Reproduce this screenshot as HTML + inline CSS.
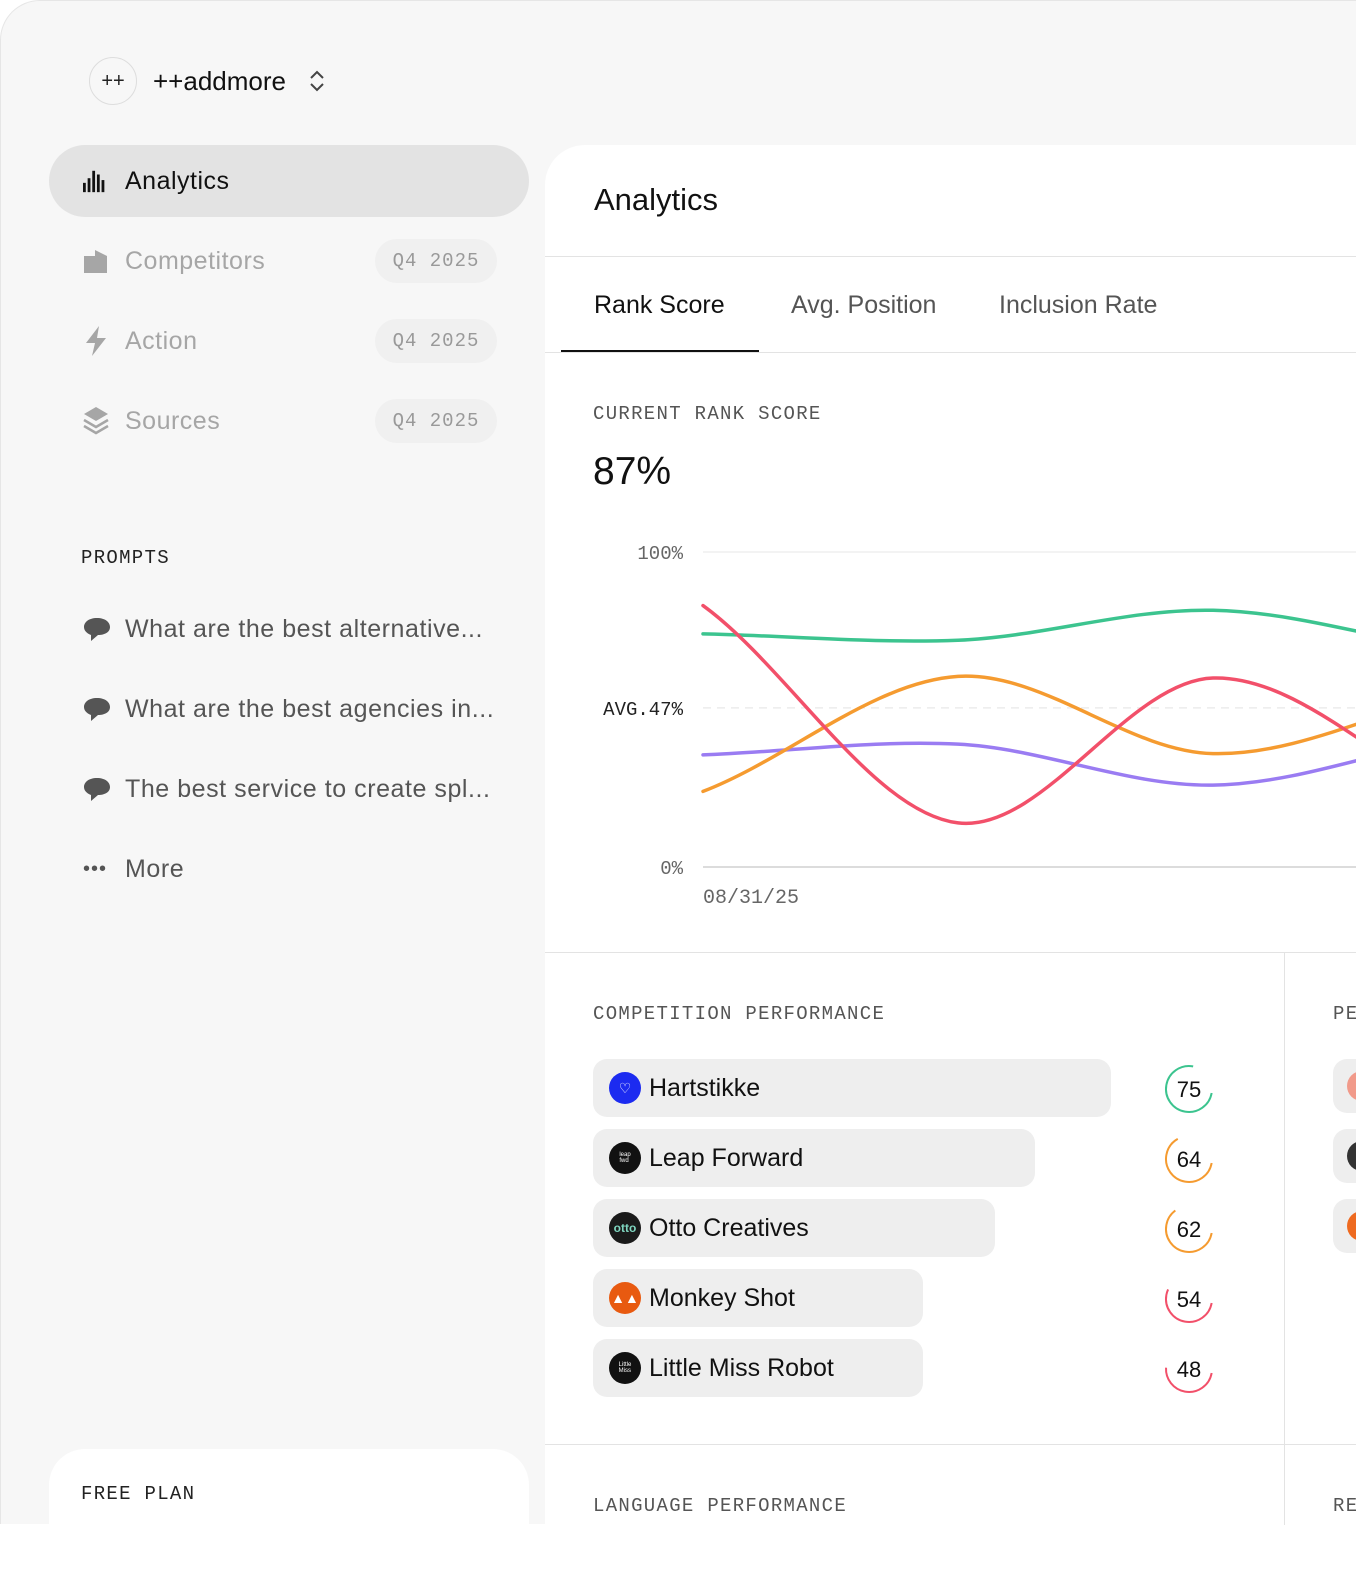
<!DOCTYPE html>
<html><head><meta charset="utf-8">
<style>
*{box-sizing:border-box;margin:0;padding:0}
body{width:1356px;height:1524px;overflow:hidden;background:#fff;font-family:"Liberation Sans",sans-serif;position:relative}
.page{position:absolute;left:0;top:0;width:1356px;height:1524px;background:#f7f7f7;border-top-left-radius:40px;border:1px solid #e6e6e6;border-right:none;border-bottom:none}
.abs{position:absolute}
.mono{font-family:"Liberation Mono",monospace}
.nav-item{position:absolute;left:48px;width:480px;height:72px;border-radius:36px;display:flex;align-items:center;padding-left:34px;font-size:25px;letter-spacing:0.5px;color:#a6a6a6}
.nav-item .ic{width:26px;height:26px;margin-right:16px;display:flex;align-items:center;justify-content:center}
.badge{position:absolute;right:32px;top:14px;height:44px;width:122px;border-radius:22px;background:#f0f0f0;font-family:"Liberation Mono",monospace;font-size:19px;color:#999;display:flex;align-items:center;justify-content:center;letter-spacing:1px}
.prompt{position:absolute;left:82px;font-size:25px;letter-spacing:0.55px;color:#555;display:flex;align-items:center}
.prompt .bub{width:28px;height:26px;margin-right:14px}
.card{position:absolute;left:544px;top:144px;width:830px;height:1400px;background:#fff;border-top-left-radius:40px}
.label{font-family:"Liberation Mono",monospace;font-size:19px;letter-spacing:1.3px;color:#555}
.bar{position:absolute;left:592px;height:58px;border-radius:14px;background:#eeeeee;display:flex;align-items:center;padding-left:16px;font-size:25px;color:#111}
.logo{width:32px;height:32px;border-radius:50%;margin-right:8px;display:flex;align-items:center;justify-content:center;color:#fff;font-size:6px;line-height:6px}
.ring{position:absolute;left:1162px;width:52px;height:52px}
.rbox{position:absolute;left:1332px;width:60px;height:54px;border-radius:14px;background:#eee}
.rbox i{position:absolute;left:14px;top:12px;width:30px;height:30px;border-radius:50%}
</style></head><body>
<div class="page">
  <div class="abs" style="left:88px;top:56px;width:48px;height:48px;border-radius:50%;border:1px solid #ddd;display:flex;align-items:center;justify-content:center;font-size:20px;color:#222">++</div>
  <div class="abs" style="left:152px;top:65px;font-size:26px;color:#111">++addmore</div>
  <svg class="abs" style="left:306px;top:67px" width="20" height="26" viewBox="0 0 20 26"><path d="M4 10 L10 4 L16 10 M4 16 L10 22 L16 16" fill="none" stroke="#444" stroke-width="2"/></svg>

  <div class="nav-item" style="top:144px;background:#e3e3e3;color:#111">
    <span class="ic"><svg width="28" height="26" viewBox="0 0 28 26"><g fill="#111"><rect x="0" y="15" width="3" height="10"/><rect x="5" y="10" width="3" height="15"/><rect x="10" y="2" width="3" height="23"/><rect x="15" y="6" width="3" height="19"/><rect x="20" y="12" width="3" height="13"/></g></svg></span>Analytics</div>
  <div class="nav-item" style="top:224px">
    <span class="ic"><svg width="26" height="26" viewBox="0 0 26 26"><path d="M1 8 L12 8 L12 2 L24 8 L24 25 L1 25Z" fill="#a6a6a6"/></svg></span>Competitors<span class="badge">Q4 2025</span></div>
  <div class="nav-item" style="top:304px">
    <span class="ic"><svg width="26" height="30" viewBox="0 0 26 30"><path d="M16 0 L3 17 L12 17 L9 30 L23 12 L14 12Z" fill="#a6a6a6"/></svg></span>Action<span class="badge">Q4 2025</span></div>
  <div class="nav-item" style="top:384px">
    <span class="ic"><svg width="26" height="30" viewBox="0 0 26 30"><path d="M13 1 L25 8 L13 15 L1 8Z" fill="#a6a6a6"/><path d="M1 14 L13 21 L25 14 M1 20 L13 27 L25 20" fill="none" stroke="#a6a6a6" stroke-width="2.5"/></svg></span>Sources<span class="badge">Q4 2025</span></div>

  <div class="abs label" style="left:80px;top:546px;color:#222">PROMPTS</div>
  <div class="prompt" style="top:614px"><svg class="bub" viewBox="0 0 28 26"><path d="M14 1 C22 1 27 5 27 10 C27 15 22 18 15 18 L8 24 L8 18 C3 16 1 13 1 10 C1 5 6 1 14 1Z" fill="#555"/></svg>What are the best alternative...</div>
  <div class="prompt" style="top:694px"><svg class="bub" viewBox="0 0 28 26"><path d="M14 1 C22 1 27 5 27 10 C27 15 22 18 15 18 L8 24 L8 18 C3 16 1 13 1 10 C1 5 6 1 14 1Z" fill="#555"/></svg>What are the best agencies in...</div>
  <div class="prompt" style="top:774px"><svg class="bub" viewBox="0 0 28 26"><path d="M14 1 C22 1 27 5 27 10 C27 15 22 18 15 18 L8 24 L8 18 C3 16 1 13 1 10 C1 5 6 1 14 1Z" fill="#555"/></svg>The best service to create spl...</div>
  <div class="prompt" style="top:854px"><span style="width:28px;margin-right:14px;font-size:20px;letter-spacing:1px;color:#555">•••</span>More</div>

  <div class="abs" style="left:48px;top:1448px;width:480px;height:120px;background:#fff;border-radius:36px"></div>
  <div class="abs label" style="left:80px;top:1482px;color:#222">FREE PLAN</div>

  <div class="card"></div>
  <div class="abs" style="left:593px;top:181px;font-size:31px;color:#111">Analytics</div>
  <div class="abs" style="left:544px;top:255px;width:812px;height:1px;background:#e3e3e3"></div>
  <div class="abs" style="left:593px;top:290px;font-size:25px;color:#111">Rank Score</div>
  <div class="abs" style="left:790px;top:290px;font-size:25px;color:#555">Avg. Position</div>
  <div class="abs" style="left:998px;top:290px;font-size:25px;color:#555">Inclusion Rate</div>
  <div class="abs" style="left:544px;top:351px;width:812px;height:1px;background:#e3e3e3"></div>
  <div class="abs" style="left:560px;top:349px;width:198px;height:2px;background:#111"></div>

  <div class="abs label" style="left:592px;top:402px">CURRENT RANK SCORE</div>
  <div class="abs" style="left:592px;top:449px;font-size:39px;color:#111">87%</div>

  <svg class="abs" id="chart" style="left:544px;top:520px" width="812" height="400"></svg>

  <div class="abs" style="left:544px;top:951px;width:812px;height:1px;background:#e3e3e3"></div>
  <div class="abs" style="left:1283px;top:951px;width:1px;height:573px;background:#e3e3e3"></div>
  <div class="abs" style="left:544px;top:1443px;width:812px;height:1px;background:#e3e3e3"></div>

  <div class="abs label" style="left:592px;top:1002px">COMPETITION PERFORMANCE</div>
  <div class="abs label" style="left:1332px;top:1002px">PE</div>
  <div class="abs label" style="left:592px;top:1494px">LANGUAGE PERFORMANCE</div>
  <div class="abs label" style="left:1332px;top:1494px">RE</div>

  <div class="bar" style="top:1058px;width:518px"><span class="logo" style="background:#1c2bf0;font-size:14px">♡</span>Hartstikke</div>
  <div class="bar" style="top:1128px;width:442px"><span class="logo" style="background:#111">leap<br>fwd</span>Leap Forward</div>
  <div class="bar" style="top:1198px;width:402px"><span class="logo" style="background:#1a1a1a;color:#7fd6c0;font-size:12px;font-weight:bold">otto</span>Otto Creatives</div>
  <div class="bar" style="top:1268px;width:330px"><span class="logo" style="background:#e85a10;font-size:14px">▲▲</span>Monkey Shot</div>
  <div class="bar" style="top:1338px;width:330px"><span class="logo" style="background:#111">Little<br>Miss</span>Little Miss Robot</div>

  <div id="rings"></div>

  <div class="rbox" style="top:1058px"><i style="background:#f19a8a"></i></div>
  <div class="rbox" style="top:1128px"><i style="background:#333"></i></div>
  <div class="rbox" style="top:1198px"><i style="background:#ee6a20"></i></div>
</div>

<script>
// chart data
const categories = ["08/31/25","09/30/25","10/31/25","11/30/25"];
const greenSeries = [74, 72, 81.5, 68];
const redSeries = [83, 14, 60, 20];
const orangeSeries = [24, 60.5, 36, 56];
const purpleSeries = [35.6, 39, 26, 42];
const yTicks = [0, 100];
const avgValue = 50.5;
const avgLabel = "AVG.47%";
const scores = [75, 64, 62, 54, 48];

const NS = "http://www.w3.org/2000/svg";
const svg = document.getElementById('chart');
const x0 = 158, xStep = 255;
const yTop = 31, yBot = 346;
function xS(i){ return x0 + i * xStep; }
function yS(v){ return yBot - (v / 100) * (yBot - yTop); }
function mk(tag, attrs){ const e = document.createElementNS(NS, tag); for (const k in attrs) e.setAttribute(k, attrs[k]); svg.appendChild(e); return e; }

yTicks.forEach(t => {
  const l = mk('line', {x1: x0, x2: 812, y1: yS(t), y2: yS(t), stroke: t === 0 ? '#dcdcdc' : '#efefef', 'stroke-width': t === 0 ? 2 : 1.5});
  
  
  const tx = mk('text', {x: 138, y: yS(t) + 7, 'text-anchor': 'end', 'font-family': 'Liberation Mono, monospace', 'font-size': 19, fill: '#666'});
  tx.textContent = t + '%';
  
  
});
const avgL = mk('line', {x1: x0, x2: 812, y1: yS(avgValue), y2: yS(avgValue), stroke: '#ececec', 'stroke-width': 1.5, 'stroke-dasharray': '8 6'});


const avgT = mk('text', {x: 138, y: yS(avgValue) + 7, 'text-anchor': 'end', 'font-family': 'Liberation Mono, monospace', 'font-size': 19, fill: '#222'});
avgT.textContent = avgLabel;



const xl = mk('text', {x: xS(0), y: 382, 'font-family': 'Liberation Mono, monospace', 'font-size': 20, fill: '#666'});
xl.textContent = categories[0];



function smoothPath(vals){
  const p = vals.map((v, i) => [xS(i), yS(v)]);
  const n = p.length;
  const tan = p.map((q, i) => {
    const a = p[Math.max(0, i - 1)], b = p[Math.min(n - 1, i + 1)];
    const k = (i === 0 || i === n - 1) ? 1 : 0.5;
    return [(b[0] - a[0]) * k, (b[1] - a[1]) * k * 0.85];
  });
  let d = 'M' + p[0][0] + ',' + p[0][1];
  for (let i = 0; i < n - 1; i++) {
    const a = p[i], b = p[i + 1];
    d += ' C' + (a[0] + tan[i][0] / 3) + ',' + (a[1] + tan[i][1] / 3) + ' ' + (b[0] - tan[i + 1][0] / 3) + ',' + (b[1] - tan[i + 1][1] / 3) + ' ' + b[0] + ',' + b[1];
  }
  return d;
}
const clip = mk('clipPath', {id: 'cp'});
const cr = document.createElementNS(NS, 'rect');
cr.setAttribute('x', 0); cr.setAttribute('y', 0); cr.setAttribute('width', 812); cr.setAttribute('height', 400);
clip.appendChild(cr);
[[purpleSeries, '#9a7cf2', 'series-purple'], [orangeSeries, '#f59b30', 'series-orange'], [greenSeries, '#3cc48f', 'series-green'], [redSeries, '#f2506a', 'series-red']].forEach(s => {
  const path = mk('path', {d: smoothPath(s[0]), fill: 'none', stroke: s[1], 'stroke-width': 3.5, 'stroke-linecap': 'round', 'clip-path': 'url(#cp)'});
  
  
});

// score rings
const ringsEl = document.getElementById('rings');
scores.forEach((s, i) => {
  const col = s >= 70 ? '#3cc48f' : (s >= 60 ? '#f59b30' : '#f2506a');
  const r = 23, C = 2 * Math.PI * r;
  const top = 1062 + i * 70;
  const d = document.createElement('div');
  d.className = 'ring';
  d.style.top = top + 'px';
  
  
  d.innerHTML = '<svg width="52" height="52" viewBox="0 0 52 52"><circle cx="26" cy="26" r="' + r + '" fill="none" stroke="' + col + '" stroke-width="2" stroke-dasharray="' + (s / 100 * C) + ' ' + C + '" transform="rotate(10 26 26)"/><text x="26" y="34" text-anchor="middle" font-family="Liberation Sans, sans-serif" font-size="22" fill="#111">' + s + '</text></svg>';
  ringsEl.appendChild(d);
});
</script>
</body></html>
